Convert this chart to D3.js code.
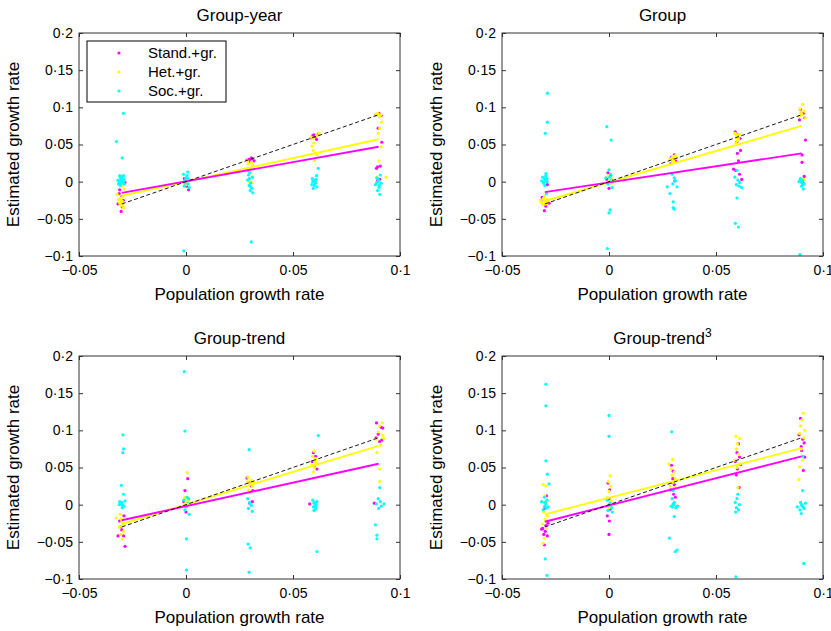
<!DOCTYPE html>
<html>
<head>
<meta charset="utf-8">
<script src="https://cdn.jsdelivr.net/npm/d3@7"></script>
<style>
  body { margin: 0; background: #fff; }
  text { font-family: "Liberation Sans", Arial, sans-serif; }
</style>
</head>
<body>
<div id="chart-area"></div>
<script>
// tick values and titles
const xTicks = [-0.05, 0, 0.05, 0.1];
const yTicks = [-0.1, -0.05, 0, 0.05, 0.1, 0.15, 0.2];
const titles = ['Group-year', 'Group', 'Group-trend', 'Group-trend'];
const seriesNames = ['Stand.+gr.', 'Het.+gr.', 'Soc.+gr.'];
const identity = [[-0.03, -0.03], [0.09, 0.09]];

// Group-year
const yearStand = [[-0.0305,-0.029],[-0.0318,-0.030],[-0.0303,-0.040],[-0.0285,-0.001],[-0.0310,-0.011],[-0.0312,-0.016],[-0.0298,-0.034],[-0.0293,-0.025],[-0.0300,-0.020],
  [0.0012,-0.011],[0.0003,-0.006],[-0.0008,0.004],[0.0005,0.002],
  [0.0295,0.030],[0.0310,0.031],[0.0285,0.029],[0.0300,0.027],[0.0318,0.028],[0.0305,0.032],
  [0.0592,0.062],[0.0605,0.061],[0.0618,0.064],[0.0585,0.059],[0.0610,0.057],[0.0598,0.063],[0.0602,0.0],
  [0.0902,0.092],[0.0888,0.090],[0.0912,0.089],[0.0898,0.072],[0.0915,0.053],[0.0895,0.020],[0.0908,0.021],[0.0890,0.018],[0.0905,0.003],[0.0895,0.001],[0.0900,0.091],[0.0906,0.088]];
const yearHet = [[-0.0322,-0.017],[-0.0305,-0.022],[-0.0298,-0.026],[-0.0310,-0.029],[-0.0302,-0.032],[-0.0293,-0.035],[-0.0315,-0.024],[-0.0290,-0.010],[-0.0300,-0.006],[-0.0295,-0.020],[-0.0300,-0.028],[-0.0296,-0.031],[-0.0304,-0.025],
  [0.0005,0.002],[-0.0010,-0.002],[0.0008,0.005],[0.0000,-0.004],[-0.0005,0.001],
  [0.0290,0.024],[0.0305,0.026],[0.0312,0.022],[0.0298,0.017],[0.0300,0.012],[0.0295,0.000],[0.0308,-0.001],[0.0287,0.028],
  [0.0585,0.060],[0.0595,0.058],[0.0610,0.062],[0.0622,0.065],[0.0588,0.048],[0.0598,0.052],[0.0605,0.038],[0.0612,0.036],[0.0600,0.028],[0.0595,0.042],
  [0.0900,0.089],[0.0910,0.090],[0.0888,0.091],[0.0915,0.080],[0.0905,0.072],[0.0898,0.065],[0.0912,0.047],[0.0902,0.028],[0.0935,0.006],[0.0892,0.006],[0.0896,0.092],[0.0906,0.087]];
const yearSoc = [[-0.0292,0.092],[-0.0325,0.054],[-0.0298,0.032],[-0.0310,0.008],[-0.0292,0.008],[-0.0305,0.003],[-0.0295,0.001],[-0.0312,-0.001],[-0.0300,0.000],[-0.0288,-0.003],[-0.0308,-0.005],[-0.0298,0.005],[-0.0318,0.002],[-0.0302,-0.002],
  [-0.0302,0.004],[-0.0296,-0.001],[-0.0306,0.006],[-0.0292,0.003],[-0.0315,-0.003],[-0.0300,0.007],[-0.0288,0.001],
  [-0.0012,0.010],[0.0008,0.013],[0.0000,0.005],[-0.0005,0.002],[0.0010,-0.003],[-0.0008,-0.006],[0.0015,-0.008],[0.0003,0.000],[-0.0010,-0.093],[0.0005,0.008],[-0.0003,-0.002],[0.0010,0.004],
  [0.0290,0.015],[0.0298,0.012],[0.0310,0.006],[0.0288,0.002],[0.0302,-0.002],[0.0295,-0.005],[0.0308,-0.009],[0.0312,-0.015],[0.0300,-0.012],[0.0305,-0.081],[0.0296,0.004],[0.0302,-0.007],[0.0292,0.009],
  [0.0618,0.018],[0.0610,0.008],[0.0590,0.004],[0.0598,0.001],[0.0605,-0.002],[0.0588,-0.004],[0.0612,-0.007],[0.0595,-0.009],[0.0602,0.002],[0.0600,-0.005],[0.0592,0.000],[0.0608,0.003],
  [0.0908,0.009],[0.0892,0.005],[0.0900,0.002],[0.0912,-0.002],[0.0885,-0.004],[0.0902,-0.008],[0.0895,-0.012],[0.0905,-0.017],[0.0898,0.000],[0.0896,0.004],[0.0904,-0.005],[0.0892,-0.001]];
const yearStandFit = [[-0.03,-0.015],[0.09,0.047]];
const yearHetFit = [[-0.03,-0.019],[0.09,0.057]];

// Group
const groupStand = [[-0.0290,0.000],[-0.0288,-0.004],[-0.0312,-0.021],[-0.0302,-0.039],[-0.0280,-0.029],[-0.0318,-0.025],[-0.0295,-0.033],
  [-0.0005,0.012],[0.0000,-0.009],[0.0008,0.008],[-0.0010,0.003],
  [0.0292,0.033],[0.0305,0.036],[0.0312,0.028],[0.0298,0.030],[0.0308,0.001],[0.0288,0.024],
  [0.0590,0.067],[0.0602,0.063],[0.0612,0.058],[0.0598,0.054],[0.0600,0.038],[0.0615,0.042],[0.0605,0.028],[0.0582,0.017],[0.0592,0.015],[0.0610,0.010],[0.0620,0.003],
  [0.0895,0.097],[0.0908,0.092],[0.0915,0.086],[0.0890,0.083],[0.0918,0.056],[0.0902,0.036],[0.0902,0.026],[0.0912,0.007],[0.0895,0.001],[0.0905,-0.001]];
const groupHet = [[-0.0320,-0.025],[-0.0305,-0.022],[-0.0295,-0.027],[-0.0310,-0.031],[-0.0298,-0.029],[-0.0288,-0.024],[-0.0300,-0.019],[-0.0315,-0.028],[-0.0302,-0.026],[-0.0296,-0.030],[-0.0306,-0.023],[-0.0290,-0.028],
  [0.0010,0.005],[-0.0005,0.008],[0.0000,0.001],[0.0012,-0.002],
  [0.0290,0.031],[0.0300,0.033],[0.0310,0.035],[0.0295,0.028],[0.0305,0.026],[0.0285,0.030],[0.0315,0.032],[0.0298,0.034],[0.0302,0.029],
  [0.0588,0.065],[0.0598,0.061],[0.0605,0.057],[0.0592,0.052],[0.0610,0.064],[0.0600,0.059],[0.0596,0.063],[0.0604,0.060],[0.0600,0.055],
  [0.0905,0.104],[0.0892,0.098],[0.0912,0.095],[0.0900,0.091],[0.0888,0.088],[0.0918,0.086],[0.0898,0.094],[0.0910,0.003],[0.0902,0.090],[0.0896,0.092]];
const groupSoc = [[-0.0288,0.119],[-0.0288,0.080],[-0.0298,0.065],[-0.0295,0.011],[-0.0310,0.006],[-0.0300,0.003],[-0.0290,0.000],[-0.0305,-0.002],[-0.0295,0.008],[-0.0315,0.001],[-0.0300,-0.005],[-0.0292,-0.016],
  [-0.0302,0.005],[-0.0296,0.002],[-0.0306,-0.001],[-0.0290,0.004],
  [-0.0010,0.074],[0.0010,0.056],[0.0005,-0.038],[0.0000,-0.042],[-0.0008,-0.090],[-0.0015,0.005],[0.0000,0.016],[0.0008,0.010],[0.0012,0.002],[-0.0005,-0.003],[0.0015,-0.008],[0.0003,0.006],
  [0.0272,-0.007],[0.0285,-0.016],[0.0300,-0.027],[0.0300,-0.035],[0.0305,-0.037],[0.0295,0.010],[0.0305,0.005],[0.0310,0.001],[0.0298,-0.003],[0.0318,-0.007],
  [0.0598,0.015],[0.0588,0.006],[0.0602,0.002],[0.0610,-0.001],[0.0595,-0.004],[0.0608,-0.006],[0.0620,-0.008],[0.0598,-0.022],[0.0590,-0.056],[0.0605,-0.061],
  [0.0895,0.004],[0.0905,0.002],[0.0888,0.000],[0.0912,-0.003],[0.0900,-0.006],[0.0908,-0.010],[0.0898,0.001],[0.0892,-0.098],[0.0902,-0.002],[0.0894,0.003],[0.0906,-0.004]];
const groupStandFit = [[-0.03,-0.014],[0.09,0.038]];
const groupHetFit = [[-0.03,-0.026],[0.09,0.075]];

// Group-trend
const trendStand = [[-0.0318,-0.042],[-0.0285,-0.056],[-0.0292,-0.042],[-0.0310,-0.022],[-0.0300,-0.034],[-0.0290,-0.015],[-0.0305,-0.030],
  [0.0008,0.035],[-0.0005,0.019],[0.0000,-0.010],[-0.0010,0.004],
  [0.0285,0.036],[0.0292,0.030],[0.0312,0.019],[0.0305,0.025],[0.0298,0.002],[0.0310,0.004],
  [0.0595,0.070],[0.0605,0.065],[0.0590,0.058],[0.0612,0.048],[0.0600,0.052],[0.0578,0.001],
  [0.0890,0.110],[0.0912,0.104],[0.0920,0.103],[0.0898,0.095],[0.0888,0.090],[0.0905,0.085],[0.0915,0.087],[0.0880,0.002]];
const trendHet = [[-0.0325,-0.018],[-0.0308,-0.013],[-0.0300,-0.022],[-0.0295,-0.027],[-0.0312,-0.030],[-0.0292,-0.036],[-0.0305,-0.040],[-0.0298,-0.046],[-0.0290,-0.025],[-0.0302,-0.019],[-0.0300,-0.029],[-0.0296,-0.024],
  [0.0005,0.043],[-0.0005,0.010],[0.0010,0.006],[0.0000,0.003],[-0.0008,0.008],
  [0.0290,0.037],[0.0305,0.033],[0.0298,0.028],[0.0310,0.024],[0.0292,0.020],[0.0302,0.017],[0.0288,0.031],[0.0315,0.030],
  [0.0598,0.072],[0.0592,0.065],[0.0605,0.060],[0.0610,0.056],[0.0588,0.054],[0.0600,0.050],[0.0595,0.044],[0.0600,0.058],[0.0604,0.062],
  [0.0918,0.110],[0.0905,0.106],[0.0898,0.098],[0.0920,0.093],[0.0890,0.088],[0.0910,0.080],[0.0892,0.070],[0.0905,0.048],[0.0905,0.031],[0.0925,0.089]];
const trendSoc = [[-0.0295,0.094],[-0.0292,0.075],[-0.0295,0.070],[-0.0302,0.026],[-0.0292,0.014],[-0.0310,0.004],[-0.0300,0.001],[-0.0290,-0.002],[-0.0305,0.002],[-0.0285,0.005],[-0.0298,-0.004],[-0.0312,0.000],
  [-0.0300,0.003],[-0.0296,-0.001],[-0.0306,0.001],
  [-0.0008,0.179],[-0.0005,0.099],[0.0002,-0.046],[0.0002,-0.088],[0.0015,-0.013],[0.0005,0.010],[-0.0010,0.006],[0.0010,0.002],[0.0000,-0.003],[-0.0005,-0.007],[0.0012,0.008],
  [0.0295,0.074],[0.0290,-0.053],[0.0300,-0.058],[0.0295,-0.091],[0.0288,0.008],[0.0298,0.003],[0.0305,-0.001],[0.0292,-0.005],[0.0310,-0.009],[0.0300,0.001],
  [0.0618,0.093],[0.0612,-0.063],[0.0592,0.006],[0.0600,0.003],[0.0608,0.000],[0.0595,-0.003],[0.0605,-0.006],[0.0598,-0.008],[0.0612,0.004],[0.0602,-0.002],[0.0598,0.002],[0.0606,-0.004],
  [0.0905,0.023],[0.0885,-0.027],[0.0892,-0.041],[0.0892,-0.046],[0.0898,0.008],[0.0908,0.004],[0.0890,0.001],[0.0912,-0.002],[0.0900,-0.005],[0.0925,0.001]];
const trendStandFit = [[-0.03,-0.021],[0.09,0.055]];
const trendHetFit = [[-0.03,-0.026],[0.09,0.079]];

// Group-trend^3
const cubeStand = [[-0.0310,-0.032],[-0.0298,-0.036],[-0.0288,-0.042],[-0.0302,-0.054],[-0.0295,-0.028],[-0.0305,-0.040],[-0.0292,0.012],[-0.0300,-0.005],[-0.0315,-0.033],[-0.0285,-0.025],
  [-0.0005,0.029],[0.0003,0.020],[0.0000,0.008],[0.0005,-0.006],[-0.0008,-0.015],[0.0002,-0.022],[0.0000,-0.040],
  [0.0292,0.053],[0.0300,0.045],[0.0298,0.035],[0.0305,0.027],[0.0288,0.020],[0.0302,0.014],[0.0310,0.010],[0.0295,0.030],
  [0.0605,0.082],[0.0598,0.070],[0.0610,0.064],[0.0590,0.058],[0.0615,0.054],[0.0600,0.048],[0.0608,0.023],[0.0595,0.040],
  [0.0895,0.116],[0.0888,0.094],[0.0905,0.088],[0.0912,0.083],[0.0900,0.073],[0.0915,0.064],[0.0908,0.046],[0.0898,0.078]];
const cubeHet = [[-0.0308,0.027],[-0.0295,0.025],[-0.0300,0.012],[-0.0290,0.004],[-0.0305,-0.010],[-0.0298,-0.020],[-0.0310,-0.026],[-0.0292,-0.032],[-0.0302,-0.045],[-0.0308,-0.052],[-0.0288,-0.015],
  [0.0005,0.039],[-0.0003,0.031],[0.0008,0.025],[0.0000,0.018],[-0.0008,0.010],[0.0010,0.005],[0.0002,-0.004],
  [0.0280,0.055],[0.0298,0.061],[0.0290,0.048],[0.0305,0.044],[0.0295,0.040],[0.0310,0.035],[0.0300,0.030],[0.0285,0.025],[0.0305,0.023],
  [0.0592,0.092],[0.0610,0.089],[0.0600,0.082],[0.0595,0.075],[0.0605,0.068],[0.0590,0.060],[0.0612,0.055],[0.0598,0.050],[0.0602,0.023],
  [0.0908,0.123],[0.0902,0.114],[0.0895,0.106],[0.0915,0.100],[0.0890,0.096],[0.0910,0.090],[0.0898,0.075],[0.0905,0.060],[0.0890,0.051],[0.0888,0.034],[0.0918,0.002]];
const cubeSoc = [[-0.0295,0.162],[-0.0295,0.133],[-0.0295,0.059],[-0.0288,0.041],[-0.0280,0.028],[-0.0298,-0.073],[-0.0290,-0.095],[-0.0315,0.004],[-0.0302,0.010],[-0.0295,0.001],[-0.0285,-0.003],[-0.0308,-0.007],[-0.0290,0.006],[-0.0300,-0.002],
  [-0.0300,0.003],[-0.0294,-0.005],
  [0.0000,0.120],[0.0000,0.092],[-0.0008,0.006],[0.0005,0.002],[0.0012,-0.004],[-0.0005,-0.008],[0.0015,-0.010],[0.0002,0.000],
  [0.0293,0.098],[0.0282,-0.045],[0.0310,-0.063],[0.0318,-0.061],[0.0305,-0.016],[0.0300,0.019],[0.0295,0.008],[0.0305,0.003],[0.0290,-0.002],[0.0312,-0.004],[0.0300,0.001],[0.0320,-0.002],[0.0302,0.000],[0.0296,-0.003],
  [0.0593,-0.097],[0.0602,0.014],[0.0598,0.008],[0.0590,0.003],[0.0610,0.000],[0.0595,-0.004],[0.0605,-0.007],[0.0592,-0.010],
  [0.0910,-0.079],[0.0905,0.019],[0.0905,0.065],[0.0880,-0.003],[0.0895,0.003],[0.0902,-0.001],[0.0912,-0.005],[0.0898,-0.012],[0.0918,0.002],[0.0892,-0.007],[0.0900,0.000],[0.0906,-0.003]];
const cubeStandFit = [[-0.03,-0.023],[0.09,0.065]];
const cubeHetFit = [[-0.03,-0.013],[0.09,0.076]];

const colors = ['#ff00ff', '#ffff00', '#00ffff'];

const panels = [
  { title: titles[0], left: 79, top: 33, pts: [yearStand, yearHet, yearSoc], fits: [yearHetFit, yearStandFit], legend: true },
  { title: titles[1], left: 502, top: 33, pts: [groupStand, groupHet, groupSoc], fits: [groupHetFit, groupStandFit] },
  { title: titles[2], left: 79, top: 356, pts: [trendStand, trendHet, trendSoc], fits: [trendHetFit, trendStandFit] },
  { title: titles[3], left: 502, top: 356, pts: [cubeStand, cubeHet, cubeSoc], fits: [cubeHetFit, cubeStandFit], sup: '3' }
];

const width = 321;
const height = 223;

const svg = d3.select('#chart-area')
  .append('svg')
  .attr('width', 831)
  .attr('height', 631)
  .style('display', 'block');

svg.append('rect').attr('width', 831).attr('height', 631).attr('fill', '#fff');

const x = d3.scaleLinear().domain([-0.05, 0.1]).range([0, width]);
const y = d3.scaleLinear().domain([-0.1, 0.2]).range([height, 0]);

const fmt = (v) => d3.format('~g')(v).replace('.', '\u00b7');
const line = d3.line().x((d) => x(d[0])).y((d) => y(d[1]));

panels.forEach((p) => {
  const g = svg.append('g')
    .attr('transform', 'translate(' + p.left + ', ' + p.top + ')');

  // points
  p.pts.forEach((series, i) => {
    g.append('g')
      .selectAll('circle')
      .data(series)
      .enter()
      .append('circle')
      .attr('cx', (d) => x(d[0]))
      .attr('cy', (d) => y(d[1]))
      .attr('r', 1.6)
      .attr('fill', colors[i]);
  });

  // fitted lines
  p.fits.forEach((fit, i) => {
    g.append('path')
      .datum(fit)
      .attr('d', line)
      .attr('fill', 'none')
      .attr('stroke', i === 0 ? colors[1] : colors[0])
      .attr('stroke-width', 1.9);
  });

  g.append('path')
    .datum(identity)
    .attr('d', line)
    .attr('fill', 'none')
    .attr('stroke', '#000')
    .attr('stroke-width', 0.9)
    .attr('stroke-dasharray', '4,2.5');

  // axes with inward ticks on all sides
  const axes = [
    g.append('g').attr('transform', 'translate(0, ' + height + ')')
      .call(d3.axisBottom(x).tickValues(xTicks).tickSize(-4).tickSizeOuter(0).tickPadding(9).tickFormat(fmt)),
    g.append('g')
      .call(d3.axisLeft(y).tickValues(yTicks).tickSize(-4).tickSizeOuter(0).tickPadding(6).tickFormat(fmt)),
    g.append('g')
      .call(d3.axisTop(x).tickValues(xTicks).tickSize(-4).tickSizeOuter(0).tickFormat('')),
    g.append('g').attr('transform', 'translate(' + width + ', 0)')
      .call(d3.axisRight(y).tickValues(yTicks).tickSize(-4).tickSizeOuter(0).tickFormat(''))
  ];
  axes.forEach((a) => {
    a.attr('font-family', '"Liberation Sans", Arial, sans-serif').attr('font-size', 14);
    a.select('.domain').remove();
    a.selectAll('line').attr('stroke', '#333');
    a.selectAll('text').attr('fill', '#000');
  });

  g.append('rect')
    .attr('width', width)
    .attr('height', height)
    .attr('fill', 'none')
    .attr('stroke', '#333')
    .attr('stroke-width', 1);

  // labels
  const t = g.append('text')
    .attr('x', width / 2)
    .attr('y', -12)
    .attr('font-size', '17px')
    .attr('text-anchor', 'middle')
    .text(p.title);
  if (p.sup) {
    t.append('tspan')
      .attr('dy', -7)
      .attr('font-size', '12px')
      .text(p.sup);
  }

  g.append('text')
    .attr('x', width / 2)
    .attr('y', height + 44)
    .attr('font-size', '17px')
    .attr('text-anchor', 'middle')
    .text('Population growth rate');

  g.append('text')
    .attr('x', -(height / 2))
    .attr('y', -60)
    .attr('font-size', '17px')
    .attr('text-anchor', 'middle')
    .attr('transform', 'rotate(-90)')
    .text('Estimated growth rate');

  if (p.legend) {
    const lg = g.append('g').attr('transform', 'translate(8, 8)');
    lg.append('rect')
      .attr('width', 139)
      .attr('height', 61)
      .attr('fill', '#fff')
      .attr('stroke', '#000')
      .attr('stroke-width', 1);
    seriesNames.forEach((name, i) => {
      lg.append('circle')
        .attr('cx', 32)
        .attr('cy', 12 + i * 19)
        .attr('r', 1.6)
        .attr('fill', colors[i]);
      lg.append('text')
        .attr('x', 61)
        .attr('y', 12 + i * 19)
        .attr('dy', '0.35em')
        .attr('font-size', '15px')
        .text(name);
    });
  }
});
</script>
</body>
</html>
